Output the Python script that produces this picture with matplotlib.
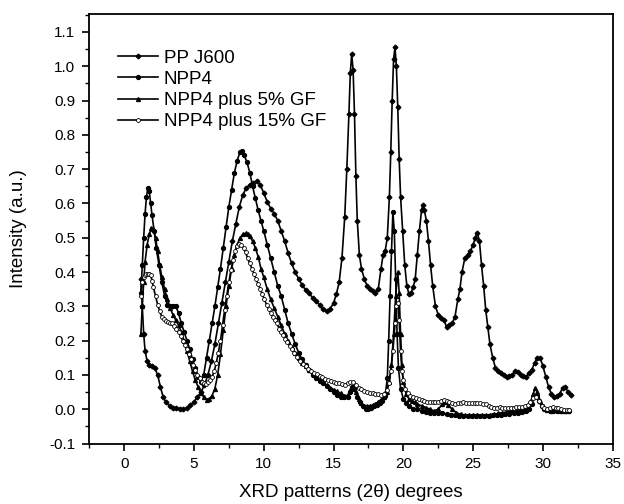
"""Recreate the XRD intensity plot for PP J600 and NPP4 composites."""

import matplotlib

matplotlib.use("Agg")
import matplotlib.pyplot as plt
from matplotlib.ticker import MultipleLocator

plt.rcParams["font.family"] = ["Liberation Sans", "DejaVu Sans"]

SERIES_LABELS = ["PP J600", "NPP4", "NPP4 plus 5% GF", "NPP4 plus 15% GF"]

pp_x = [1.2, 1.3, 1.4, 1.5, 1.65, 1.8, 2.0, 2.2, 2.4, 2.6, 2.8, 3.0, 3.25, 3.5, 3.75, 4.0,
        4.25, 4.5, 4.75, 5.0, 5.25, 5.5, 5.75, 6.0, 6.25, 6.5, 6.75, 7.0, 7.25, 7.5, 7.75,
        8.0, 8.25, 8.5, 8.75, 9.0, 9.25, 9.5, 9.75, 10.0, 10.25, 10.5, 10.75, 11.0, 11.25,
        11.5, 11.75, 12.0, 12.25, 12.5, 12.75, 13.0, 13.25, 13.5, 13.75, 14.0, 14.25, 14.5,
        14.75, 15.0, 15.2, 15.4, 15.6, 15.8, 15.95, 16.1, 16.2, 16.3, 16.4, 16.5, 16.6, 16.7,
        16.85, 17.0, 17.2, 17.4, 17.6, 17.8, 18.0, 18.2, 18.4, 18.55, 18.7, 18.85, 19.0,
        19.1, 19.2, 19.3, 19.4, 19.5, 19.6, 19.7, 19.8, 19.95, 20.1, 20.25, 20.4, 20.55,
        20.7, 20.85, 21.0, 21.15, 21.3, 21.4, 21.5, 21.65, 21.8, 21.95, 22.1, 22.3, 22.5,
        22.7, 22.9, 23.1, 23.3, 23.5, 23.7, 23.9, 24.05, 24.2, 24.4, 24.6, 24.8, 25.0,
        25.15, 25.3, 25.45, 25.6, 25.75, 25.9, 26.05, 26.2, 26.4, 26.6, 26.8, 27.0, 27.2,
        27.4, 27.6, 27.8, 28.0, 28.2, 28.4, 28.6, 28.8, 29.0, 29.2, 29.4, 29.6, 29.8, 30.0,
        30.2, 30.4, 30.6, 30.8, 31.0, 31.2, 31.4, 31.6, 31.8, 32.0]
pp_y = [0.38, 0.30, 0.22, 0.17, 0.14, 0.13, 0.125, 0.12, 0.10, 0.065, 0.035, 0.02, 0.01,
        0.005, 0.003, 0.002, 0.0, 0.004, 0.012, 0.022, 0.035, 0.05, 0.07, 0.10, 0.14, 0.19,
        0.25, 0.31, 0.37, 0.43, 0.49, 0.54, 0.59, 0.625, 0.645, 0.655, 0.66, 0.665, 0.655,
        0.63, 0.605, 0.585, 0.57, 0.55, 0.52, 0.49, 0.455, 0.425, 0.40, 0.38, 0.362, 0.348,
        0.338, 0.325, 0.315, 0.304, 0.292, 0.286, 0.292, 0.31, 0.335, 0.37, 0.44, 0.56,
        0.70, 0.86, 0.98, 1.035, 0.99, 0.86, 0.68, 0.55, 0.45, 0.41, 0.38, 0.36, 0.35,
        0.345, 0.34, 0.35, 0.41, 0.45, 0.462, 0.50, 0.62, 0.75, 0.90, 1.02, 1.055, 1.00,
        0.88, 0.73, 0.62, 0.52, 0.42, 0.36, 0.335, 0.34, 0.355, 0.38, 0.45, 0.52, 0.58,
        0.595, 0.58, 0.55, 0.49, 0.42, 0.36, 0.30, 0.275, 0.265, 0.26, 0.24, 0.245, 0.25,
        0.27, 0.32, 0.35, 0.40, 0.44, 0.45, 0.46, 0.48, 0.50, 0.515, 0.49, 0.42, 0.36, 0.29,
        0.24, 0.19, 0.15, 0.12, 0.11, 0.105, 0.10, 0.095, 0.097, 0.10, 0.112, 0.108, 0.10,
        0.097, 0.095, 0.105, 0.115, 0.135, 0.15, 0.15, 0.125, 0.095, 0.065, 0.045, 0.037,
        0.038, 0.045, 0.062, 0.065, 0.05, 0.042]

npp4_x = [1.2, 1.3, 1.4, 1.5, 1.6, 1.7, 1.8, 1.9, 2.0, 2.15, 2.3, 2.5, 2.7, 2.9, 3.1, 3.3,
          3.5, 3.7, 3.9, 4.1, 4.3, 4.5, 4.7, 4.9, 5.1, 5.3, 5.5, 5.7, 5.9, 6.1, 6.3, 6.5,
          6.7, 6.9, 7.1, 7.3, 7.5, 7.7, 7.9, 8.1, 8.3, 8.45, 8.6, 8.8, 9.0, 9.2, 9.4, 9.6,
          9.8, 10.0, 10.25, 10.5, 10.75, 11.0, 11.25, 11.5, 11.75, 12.0, 12.25, 12.5, 12.75,
          13.0, 13.25, 13.5, 13.75, 14.0, 14.25, 14.5, 14.75, 15.0, 15.25, 15.5, 15.75,
          16.0, 16.2, 16.35, 16.5, 16.7, 16.9, 17.1, 17.3, 17.5, 17.7, 17.9, 18.1, 18.3,
          18.5, 18.7, 18.85, 18.95, 19.05, 19.15, 19.25, 19.35, 19.45, 19.55, 19.65, 19.8,
          20.0, 20.2, 20.4, 20.7, 21.0, 21.3, 21.6, 21.9, 22.2, 22.5, 22.8, 23.1, 23.4,
          23.7, 24.0, 24.3, 24.6, 24.9, 25.2, 25.5, 25.8, 26.1, 26.4, 26.7, 27.0, 27.3,
          27.6, 27.9, 28.2, 28.5, 28.8, 29.0, 29.2, 29.4, 29.55, 29.7, 29.9, 30.1, 30.4,
          30.7, 31.0, 31.3, 31.6, 31.9]
npp4_y = [0.34, 0.42, 0.50, 0.57, 0.62, 0.645, 0.635, 0.60, 0.565, 0.52, 0.47, 0.42, 0.37,
          0.33, 0.305, 0.30, 0.30, 0.30, 0.28, 0.25, 0.225, 0.20, 0.175, 0.145, 0.12,
          0.095, 0.08, 0.10, 0.15, 0.20, 0.25, 0.30, 0.355, 0.41, 0.47, 0.53, 0.59, 0.64,
          0.69, 0.725, 0.75, 0.752, 0.74, 0.72, 0.69, 0.65, 0.615, 0.58, 0.55, 0.52, 0.48,
          0.44, 0.40, 0.36, 0.33, 0.29, 0.25, 0.22, 0.19, 0.165, 0.145, 0.13, 0.115, 0.10,
          0.09, 0.082, 0.075, 0.068, 0.06, 0.05, 0.042, 0.037, 0.035, 0.036, 0.05, 0.065,
          0.058, 0.035, 0.02, 0.01, 0.002, 0.0, 0.003, 0.008, 0.012, 0.018, 0.025, 0.04,
          0.09, 0.20, 0.33, 0.46, 0.575, 0.52, 0.38, 0.22, 0.12, 0.06, 0.03, 0.018, 0.01,
          0.002, 0.0, -0.005, -0.008, -0.01, -0.012, -0.012, -0.012, -0.015, -0.016,
          -0.018, -0.019, -0.02, -0.02, -0.02, -0.019, -0.02, -0.02, -0.019, -0.018,
          -0.017, -0.016, -0.015, -0.014, -0.012, -0.01, -0.008, -0.004, 0.0, 0.015, 0.035,
          0.04, 0.025, 0.008, 0.0, -0.003, -0.004, -0.005, -0.004, -0.005, -0.006]

gf5_x = [1.2, 1.3, 1.4, 1.5, 1.65, 1.8, 1.95, 2.1, 2.25, 2.4, 2.55, 2.7, 2.9, 3.1, 3.3, 3.5,
         3.7, 3.9, 4.1, 4.3, 4.5, 4.7, 4.9, 5.1, 5.3, 5.5, 5.7, 5.9, 6.1, 6.3, 6.5, 6.7,
         6.9, 7.1, 7.3, 7.5, 7.7, 7.9, 8.1, 8.3, 8.5, 8.7, 8.85, 9.0, 9.2, 9.4, 9.6, 9.8,
         10.0, 10.25, 10.5, 10.75, 11.0, 11.25, 11.5, 11.75, 12.0, 12.25, 12.5, 12.75, 13.0,
         13.25, 13.5, 13.75, 14.0, 14.25, 14.5, 14.75, 15.0, 15.25, 15.5, 15.75, 16.0, 16.2,
         16.4, 16.6, 16.8, 17.0, 17.2, 17.4, 17.6, 17.8, 18.0, 18.2, 18.4, 18.6, 18.8, 19.0,
         19.15, 19.3, 19.45, 19.6, 19.7, 19.8, 19.9, 20.0, 20.2, 20.4, 20.6, 20.8, 21.0,
         21.3, 21.6, 21.9, 22.2, 22.5, 22.8, 23.0, 23.2, 23.5, 23.8, 24.1, 24.4, 24.7, 25.0,
         25.3, 25.6, 25.9, 26.2, 26.5, 26.8, 27.1, 27.4, 27.7, 28.0, 28.3, 28.6, 28.9, 29.1,
         29.3, 29.45, 29.6, 29.8, 30.0, 30.3, 30.6, 30.9, 31.2, 31.5, 31.8]
gf5_y = [0.22, 0.30, 0.37, 0.43, 0.48, 0.51, 0.528, 0.525, 0.50, 0.46, 0.42, 0.385, 0.35,
         0.32, 0.295, 0.275, 0.26, 0.245, 0.225, 0.20, 0.17, 0.14, 0.11, 0.085, 0.065,
         0.048, 0.035, 0.028, 0.03, 0.04, 0.06, 0.10, 0.16, 0.23, 0.30, 0.36, 0.41, 0.45,
         0.48, 0.50, 0.51, 0.513, 0.512, 0.505, 0.49, 0.47, 0.445, 0.41, 0.385, 0.35, 0.32,
         0.295, 0.27, 0.245, 0.22, 0.20, 0.18, 0.165, 0.15, 0.135, 0.125, 0.115, 0.105,
         0.095, 0.085, 0.078, 0.07, 0.063, 0.057, 0.052, 0.046, 0.04, 0.04, 0.055, 0.064,
         0.05, 0.03, 0.018, 0.01, 0.008, 0.01, 0.012, 0.015, 0.022, 0.028, 0.035, 0.05,
         0.08, 0.13, 0.22, 0.33, 0.40, 0.34, 0.22, 0.13, 0.08, 0.045, 0.03, 0.025, 0.02,
         0.015, 0.01, 0.005, 0.0, -0.005, 0.0, 0.015, 0.02, 0.012, 0.0, -0.01, -0.015,
         -0.018, -0.018, -0.017, -0.016, -0.017, -0.018, -0.016, -0.015, -0.012, -0.01,
         -0.008, -0.005, -0.004, -0.002, 0.0, 0.005, 0.02, 0.045, 0.062, 0.05, 0.025, 0.008,
         -0.002, -0.004, -0.003, -0.005, -0.005, -0.006]

gf15_x = [1.2, 1.3, 1.4, 1.5, 1.6, 1.7, 1.8, 1.9, 2.0, 2.1, 2.25, 2.4, 2.55, 2.7, 2.85, 3.0,
          3.15, 3.3, 3.45, 3.6, 3.75, 3.9, 4.05, 4.2, 4.35, 4.5, 4.65, 4.8, 4.95, 5.1, 5.25,
          5.4, 5.55, 5.7, 5.85, 6.0, 6.15, 6.3, 6.45, 6.6, 6.75, 6.9, 7.05, 7.2, 7.35, 7.5,
          7.65, 7.8, 7.95, 8.1, 8.25, 8.4, 8.55, 8.7, 8.85, 9.0, 9.15, 9.3, 9.45, 9.6, 9.75,
          9.9, 10.05, 10.2, 10.35, 10.5, 10.65, 10.8, 10.95, 11.1, 11.25, 11.4, 11.55, 11.7,
          11.85, 12.0, 12.2, 12.4, 12.6, 12.8, 13.0, 13.2, 13.4, 13.6, 13.8, 14.0, 14.2,
          14.4, 14.6, 14.8, 15.0, 15.2, 15.4, 15.6, 15.8, 16.0, 16.2, 16.4, 16.6, 16.8, 17.0,
          17.2, 17.4, 17.6, 17.8, 18.0, 18.2, 18.4, 18.6, 18.8, 18.95, 19.1, 19.25, 19.4,
          19.5, 19.6, 19.7, 19.8, 19.9, 20.0, 20.15, 20.3, 20.5, 20.7, 20.9, 21.1, 21.3,
          21.5, 21.7, 21.9, 22.1, 22.3, 22.5, 22.7, 22.9, 23.1, 23.3, 23.5, 23.7, 23.9, 24.1,
          24.3, 24.5, 24.7, 24.9, 25.1, 25.3, 25.5, 25.7, 25.9, 26.1, 26.3, 26.5, 26.7, 26.9,
          27.1, 27.3, 27.5, 27.7, 27.9, 28.1, 28.3, 28.5, 28.7, 28.9, 29.1, 29.3, 29.5, 29.7,
          29.9, 30.1, 30.3, 30.5, 30.7, 30.9, 31.1, 31.3, 31.5, 31.7, 31.9]
gf15_y = [0.33, 0.37, 0.385, 0.39, 0.393, 0.395, 0.395, 0.39, 0.375, 0.355, 0.33, 0.305,
          0.285, 0.27, 0.262, 0.258, 0.255, 0.252, 0.25, 0.243, 0.235, 0.225, 0.213, 0.20,
          0.188, 0.175, 0.16, 0.145, 0.13, 0.115, 0.10, 0.09, 0.08, 0.075, 0.074, 0.078,
          0.085, 0.095, 0.11, 0.135, 0.165, 0.20, 0.245, 0.29, 0.33, 0.37, 0.405, 0.435,
          0.46, 0.476, 0.483, 0.48, 0.47, 0.457, 0.44, 0.425, 0.41, 0.395, 0.38, 0.365,
          0.35, 0.335, 0.32, 0.305, 0.293, 0.282, 0.27, 0.26, 0.25, 0.235, 0.225, 0.215,
          0.205, 0.195, 0.185, 0.175, 0.163, 0.152, 0.142, 0.133, 0.125, 0.118, 0.112,
          0.107, 0.102, 0.097, 0.093, 0.089, 0.086, 0.083, 0.08, 0.077, 0.075, 0.073, 0.072,
          0.075, 0.079, 0.078, 0.07, 0.063, 0.058, 0.054, 0.05, 0.048, 0.046, 0.044, 0.043,
          0.042, 0.045, 0.055, 0.075, 0.11, 0.17, 0.25, 0.30, 0.31, 0.26, 0.17, 0.11, 0.085,
          0.06, 0.047, 0.04, 0.036, 0.033, 0.03, 0.027, 0.025, 0.022, 0.02, 0.02, 0.021,
          0.022, 0.025, 0.027, 0.024, 0.02, 0.018, 0.016, 0.017, 0.019, 0.02, 0.019, 0.018,
          0.018, 0.018, 0.018, 0.017, 0.016, 0.014, 0.01, 0.006, 0.005, 0.005, 0.006, 0.005,
          0.004, 0.004, 0.005, 0.005, 0.006, 0.006, 0.007, 0.008, 0.012, 0.022, 0.032, 0.037,
          0.025, 0.01, 0.003, 0.0, 0.004, 0.006, 0.005, 0.003, 0.0, -0.002, -0.002, -0.001]


def main() -> None:
    fig = plt.figure(figsize=(6.24, 5.04), dpi=100)
    ax = fig.add_axes([0.143, 0.12, 0.839, 0.852])

    line_kw = dict(color="black", linewidth=1.2, markersize=2.8)
    ax.plot(pp_x, pp_y, marker="D", markersize=2.4, color="black", linewidth=1.2,
            label=SERIES_LABELS[0])
    ax.plot(npp4_x, npp4_y, marker="o", label=SERIES_LABELS[1], **line_kw)
    ax.plot(gf5_x, gf5_y, marker="^", label=SERIES_LABELS[2], **line_kw)
    ax.plot(gf15_x, gf15_y, marker="o", markerfacecolor="white", markeredgewidth=0.6,
            label=SERIES_LABELS[3], **line_kw)

    ax.set_xlim(-2.5, 35)
    ax.set_ylim(-0.1, 1.152)
    ax.xaxis.set_major_locator(MultipleLocator(5))
    ax.xaxis.set_minor_locator(MultipleLocator(2.5))
    ax.yaxis.set_major_locator(MultipleLocator(0.1))
    ax.yaxis.set_minor_locator(MultipleLocator(0.05))
    ax.yaxis.set_major_formatter(lambda v, pos: f"{v:.1f}")
    ax.tick_params(which="major", direction="out", length=5, width=1.2, labelsize=11,
                   pad=5)
    ax.tick_params(which="minor", direction="out", length=3, width=1.0)
    for spine in ax.spines.values():
        spine.set_linewidth(1.3)

    ax.set_xlabel("XRD patterns (2\u03b8) degrees", fontsize=13.5, labelpad=9)
    ax.set_ylabel("Intensity (a.u.)", fontsize=13.5, labelpad=16)

    ax.legend(loc="upper left", bbox_to_anchor=(0.04, 0.935), frameon=False,
              fontsize=13.5, numpoints=1, handlelength=2.15, handletextpad=0.3,
              labelspacing=0.22, borderaxespad=0.0)

    fig.savefig("out.png", dpi=100)
    plt.close(fig)


if __name__ == "__main__":
    main()
